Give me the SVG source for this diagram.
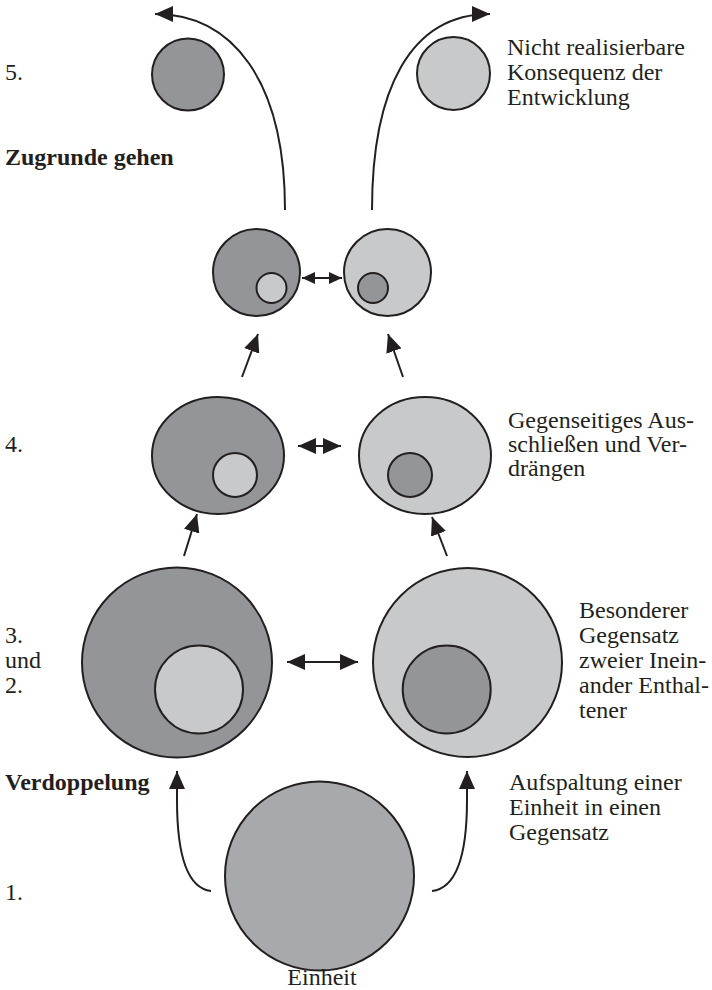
<svg xmlns="http://www.w3.org/2000/svg" width="712" height="990" viewBox="0 0 712 990">
<style>
.dk{fill:#939598;stroke:#231f20;stroke-width:2}
.lt{fill:#c8c9cb;stroke:#231f20;stroke-width:2}
.md{fill:#a7a9ac;stroke:#231f20;stroke-width:2}
.t{font-family:"Liberation Serif","Times New Roman",serif;font-size:24px;fill:#231f20}
.b{font-weight:bold}
.c{fill:none;stroke:#231f20;stroke-width:2}
</style>
<defs>
<marker id="ah" viewBox="0 0 18 16" refX="18" refY="8" markerWidth="18" markerHeight="16" markerUnits="userSpaceOnUse" orient="auto-start-reverse">
<path d="M0,0 L18,8 L0,16 Z" fill="#231f20"/>
</marker>
<marker id="ahs" viewBox="0 0 13 12" refX="13" refY="6" markerWidth="13" markerHeight="12" markerUnits="userSpaceOnUse" orient="auto-start-reverse">
<path d="M0,0 L13,6 L0,12 Z" fill="#231f20"/>
</marker>
</defs>
<rect width="712" height="990" fill="#ffffff"/>

<g id="connectors">
<path class="c" d="M285,210 C285,80 232,14 155,14" marker-end="url(#ah)"/>
<path class="c" d="M372,210 C372,90 410,14 490,14" marker-end="url(#ah)"/>
<path class="c" d="M302,278 L342,278" marker-start="url(#ahs)" marker-end="url(#ahs)"/>
<path class="c" d="M242,377 L258,334" marker-end="url(#ah)"/>
<path class="c" d="M403,377 L388,334" marker-end="url(#ah)"/>
<path class="c" d="M298,446 L341,446" marker-start="url(#ah)" marker-end="url(#ah)"/>
<path class="c" d="M184,556 L197,514" marker-end="url(#ah)"/>
<path class="c" d="M447,556 L432,517" marker-end="url(#ah)"/>
<path class="c" d="M287,662 L358,662" marker-start="url(#ah)" marker-end="url(#ah)"/>
<path class="c" d="M211,891 C186,888 177,850 177,800 L177,771" marker-end="url(#ah)"/>
<path class="c" d="M432,891 C458,888 467,850 467,800 L467,771" marker-end="url(#ah)"/>
</g>

<g id="n5-left"><circle class="dk" cx="188" cy="74.5" r="36"/></g>
<g id="n5-right"><circle class="lt" cx="453.5" cy="73.5" r="36.5"/></g>

<g id="n45-left"><circle class="dk" cx="256.5" cy="272.5" r="43.5"/><circle class="lt" cx="271.5" cy="288" r="15"/></g>
<g id="n45-right"><circle class="lt" cx="387.5" cy="272.5" r="43.5"/><circle class="dk" cx="373" cy="288" r="15"/></g>

<g id="n4-left"><ellipse class="dk" cx="218" cy="455.5" rx="66" ry="58.5"/><circle class="lt" cx="235" cy="475" r="22"/></g>
<g id="n4-right"><ellipse class="lt" cx="425" cy="455.5" rx="66" ry="58.5"/><circle class="dk" cx="410" cy="475" r="22"/></g>

<g id="n3-left"><circle class="dk" cx="177" cy="662.5" r="95"/><circle class="lt" cx="199" cy="689.5" r="44"/></g>
<g id="n3-right"><circle class="lt" cx="467.5" cy="662.5" r="94.5"/><circle class="dk" cx="446.7" cy="689.5" r="44"/></g>

<g id="n1"><circle class="md" cx="319.5" cy="876" r="94.5"/></g>

<g id="labels">
<text class="t" x="5" y="80">5.</text>
<text class="t b" x="5" y="165">Zugrunde gehen</text>
<text class="t" x="507" y="55">Nicht realisierbare</text>
<text class="t" x="507" y="80">Konsequenz der</text>
<text class="t" x="507" y="105">Entwicklung</text>
<text class="t" x="5" y="452">4.</text>
<text class="t" x="508" y="428">Gegenseitiges Aus-</text>
<text class="t" x="508" y="452">schließen und Ver-</text>
<text class="t" x="508" y="476">drängen</text>
<text class="t" x="5" y="643">3.</text>
<text class="t" x="5" y="668">und</text>
<text class="t" x="5" y="693">2.</text>
<text class="t" x="579" y="618">Besonderer</text>
<text class="t" x="579" y="643">Gegensatz</text>
<text class="t" x="579" y="668">zweier Inein-</text>
<text class="t" x="579" y="693">ander Enthal-</text>
<text class="t" x="579" y="718">tener</text>
<text class="t b" x="5" y="790">Verdoppelung</text>
<text class="t" x="509" y="790">Aufspaltung einer</text>
<text class="t" x="509" y="815">Einheit in einen</text>
<text class="t" x="509" y="840">Gegensatz</text>
<text class="t" x="5" y="900">1.</text>
<text class="t" x="322" y="985" text-anchor="middle">Einheit</text>
</g>
</svg>
